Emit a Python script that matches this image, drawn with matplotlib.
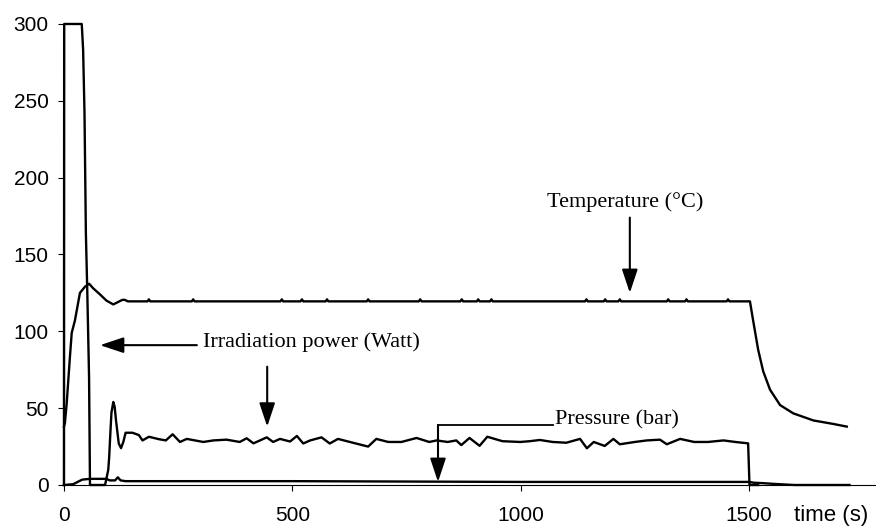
import numpy as np
import matplotlib
matplotlib.use("Agg")
import matplotlib.pyplot as plt

# values (time in s)
power_t = [0, 0.5, 39, 42, 45, 48, 51, 55, 57, 90, 97, 99, 102, 104, 108, 111, 114, 120, 125,
           130, 135, 150, 164, 172, 186, 208, 223, 238, 254, 269, 305, 327, 356, 385, 400, 415,
           444, 458, 473, 495, 510, 524, 539, 564, 582, 600, 626, 666, 684, 710, 739, 772, 800,
           816, 840, 859, 870, 888, 910, 927, 960, 999, 1020, 1042, 1070, 1100, 1130, 1145, 1160,
           1184, 1203, 1217, 1250, 1276, 1305, 1320, 1349, 1380, 1410, 1444, 1470, 1498, 1501, 1520]
power = [0, 300, 300, 283, 242, 164, 127, 70, 0, 0, 9.8, 18, 36, 47, 54, 51, 42, 27, 24,
         28, 34, 34, 32.5, 29, 31.4, 29.8, 29, 33, 28, 30, 28, 29, 29.5, 28, 30.4, 27.1,
         31, 28, 30, 28.3, 31.9, 27, 29, 31, 27, 30, 28, 25, 30, 28, 28, 30.6, 28,
         29, 28, 29, 26, 30.6, 25.5, 31.4, 28.5, 28, 28.5, 29.3, 28, 27.5, 30, 23.9, 28,
         25.4, 30, 26.5, 28, 29, 29.5, 26.5, 30, 28, 28, 29, 28, 27.1, 0, 0]

temp_t = [0, 2, 6, 9.5, 13, 17, 24, 35, 46, 55, 64, 79, 93, 108, 118, 128, 133, 140]
temp = [38, 40, 53, 68, 83, 99, 107, 125, 129, 131, 128, 124, 120, 117.5, 119, 120.5, 120.5, 119.5]
temp_bumps = [186, 283, 477, 521, 576, 666, 780, 871, 907, 936, 1144, 1185, 1217, 1323, 1363, 1454]
cool_t = [1502, 1509, 1520, 1531, 1546, 1568, 1597, 1641, 1685, 1714]
cool = [119.5, 107, 88, 74, 62, 52, 46.6, 42, 39.7, 38]

pres_t = [0, 20, 30, 40, 57, 93, 100, 112, 118, 124, 135, 500, 1000, 1500, 1510, 1530, 1550, 1580, 1600, 1720]
pres = [0, 0.5, 2, 3.5, 4, 4, 3, 3, 5, 3, 2.5, 2.5, 2, 2, 1.5, 1.2, 0.8, 0.3, 0, 0]

# flat temperature with the small spikes
for b in temp_bumps:
    temp_t += [b - 3, b, b + 3]
    temp += [119.5, 120.8, 119.5]
temp_t += cool_t
temp += cool

xticks = [0, 500, 1000, 1500]
yticks = [0, 50, 100, 150, 200, 250, 300]

fig = plt.figure(figsize=(8.76, 5.27), dpi=100)
ax = fig.add_axes([0.073, 0.0797, 0.927, 0.8748])

lw = 1.7
ax.plot(power_t, power, color='black', lw=lw, clip_on=False)
ax.plot(temp_t, temp, color='black', lw=lw, clip_on=False)
ax.plot(pres_t, pres, color='black', lw=lw, clip_on=False)

ax.set_xlim(0, 1778)
ax.set_ylim(0, 300)
ax.set_xticks(xticks)
ax.set_yticks(yticks)
for s in ['top', 'right']:
    ax.spines[s].set_visible(False)
for s in ['left', 'bottom']:
    ax.spines[s].set_linewidth(0.8)
ax.tick_params(axis='both', direction='out', length=4, width=0.8, labelsize=15)
ax.tick_params(axis='x', pad=11)
ax.tick_params(axis='y', pad=7)
for lab in ax.get_xticklabels() + ax.get_yticklabels():
    lab.set_family('Liberation Sans')

fig.text(0.949, 0.022, 'time (s)', fontsize=16, family='Liberation Sans',
         ha='center', va='center')

serif = dict(family='Liberation Serif', fontsize=16)
aprops = dict(arrowstyle='-|>,head_length=0.6,head_width=0.2', mutation_scale=24,
              lw=1.5, color='black', shrinkA=0, shrinkB=0)

# Temperature
ax.text(1228, 181, 'Temperature (°C)', ha='center', va='baseline', **serif)
ax.annotate('', xy=(1239, 125), xytext=(1239, 174), arrowprops=aprops)

# Irradiation power
ax.text(304, 89.5, 'Irradiation power (Watt)', ha='left', va='baseline', **serif)
ax.annotate('', xy=(79, 91), xytext=(291, 91), arrowprops=aprops)
ax.annotate('', xy=(445, 38), xytext=(445, 77), arrowprops=aprops)

# Pressure
ax.text(1075, 39.5, 'Pressure (bar)', ha='left', va='baseline', **serif)
ax.plot([1070, 819], [39, 39], color='black', lw=1.3)
ax.annotate('', xy=(819, 2), xytext=(819, 39), arrowprops=aprops)

fig.savefig('out.png', dpi=100)
